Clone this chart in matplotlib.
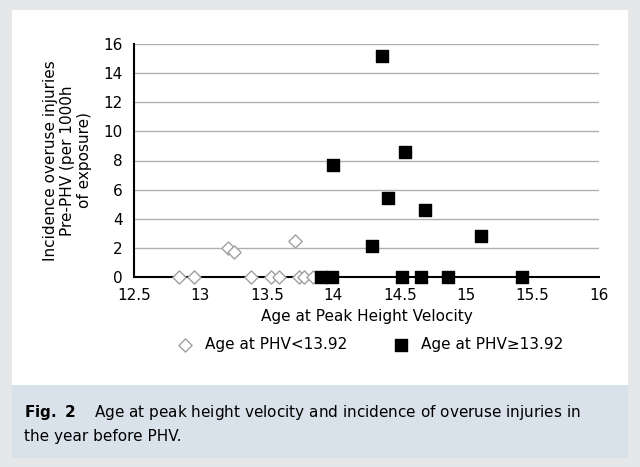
import matplotlib.pyplot as plt
from matplotlib.patches import Rectangle

early_age = [12.84, 12.95, 13.21, 13.25, 13.38, 13.53, 13.59, 13.71, 13.74, 13.78, 13.85]
early_inc = [0, 0, 2.0, 1.7, 0, 0, 0, 2.5, 0, 0, 0]
late_age = [13.91, 13.99, 14.0, 14.29, 14.37, 14.41, 14.52, 14.54, 14.66, 14.69, 14.86, 15.11, 15.42]
late_inc = [0, 0, 7.7, 2.1, 15.2, 5.4, 0, 8.6, 0, 4.6, 0, 2.8, 0]

fig = plt.figure(figsize=(6.4, 4.67), dpi=100)
fig.patch.set_facecolor('#e6e7e8')
fig.add_artist(Rectangle((12/640, 1 - 385/467), 616/640, 375/467, transform=fig.transFigure,
                         facecolor='white', edgecolor='none', zorder=-10))
fig.add_artist(Rectangle((12/640, 1 - 458/467), 616/640, 73/467, transform=fig.transFigure,
                         facecolor='#d9e1ea', edgecolor='none', zorder=-10))

ax = fig.add_axes([134/640, 1 - 277/467, 465/640, 233/467])
ax.set_facecolor('white')
ax.scatter(early_age, early_inc, marker='D', s=45, facecolor='white', edgecolor='#a0a0a0',
           linewidth=1, label='Age at PHV<13.92', zorder=3, clip_on=False)
ax.scatter(late_age, late_inc, marker='s', s=75, color='black', label='Age at PHV\u226513.92',
           zorder=3, clip_on=False)
ax.set_xlim(12.5, 16)
ax.set_ylim(0, 16)
ax.set_xticks([12.5, 13, 13.5, 14, 14.5, 15, 15.5, 16])
ax.set_xticklabels(['12.5', '13', '13.5', '14', '14.5', '15', '15.5', '16'])
ax.set_yticks(range(0, 17, 2))
ax.grid(axis='y', color='#b0b0b0', linewidth=1)
ax.set_axisbelow(True)
for s in ['top', 'right']:
    ax.spines[s].set_visible(False)
ax.spines['left'].set_linewidth(1.5)
ax.spines['bottom'].set_linewidth(1.5)
ax.tick_params(length=0, labelsize=11, pad=8)
ax.set_xlabel('Age at Peak Height Velocity', fontsize=11, labelpad=4)
ax.set_ylabel('Incidence overuse injuries\nPre-PHV (per 1000h\nof exposure)', fontsize=11, labelpad=8)
ax.legend(loc='upper center', bbox_to_anchor=(0.5, -0.2), ncol=2, frameon=False,
          fontsize=11, handletextpad=0.3, columnspacing=2.5)

fig.text(24/640, 1 - 412/467, r'$\bf{Fig.\ 2}$' + '    Age at peak height velocity and incidence of overuse injuries in',
         fontsize=11, va='center')
fig.text(24/640, 1 - 437/467, 'the year before PHV.', fontsize=11, va='center')

fig.savefig('out.png', facecolor=fig.get_facecolor())
